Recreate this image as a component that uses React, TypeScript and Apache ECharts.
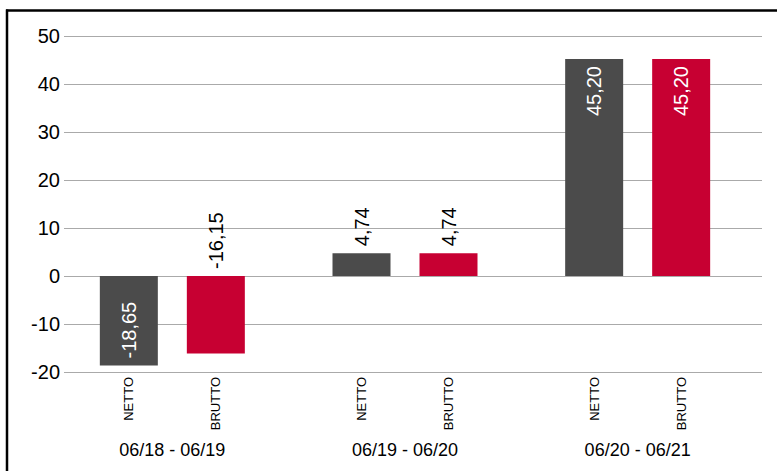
import React, { useEffect, useRef } from "react";
import * as echarts from "echarts";

const categories = ["06/18 - 06/19", "06/19 - 06/20", "06/20 - 06/21"];
const seriesNames = ["NETTO", "BRUTTO"];
const netto = [-18.65, 4.74, 45.2];
const brutto = [-16.15, 4.74, 45.2];
const yMin = -20;
const yMax = 50;
const yInterval = 10;

const COLORS = ["#4b4b4b", "#c70032"];
const FONT = "Liberation Sans, Arial, Helvetica, sans-serif";

function fmt(v: number) {
  return v.toFixed(2).replace(".", ",");
}

function valueLabel(v: number) {
  const inside = Math.abs(v) > 17;
  if (inside) {
    return {
      position: v < 0 ? "insideBottom" : "insideTop",
      align: v < 0 ? "left" : "right",
      color: "#ffffff",
    };
  }
  return { position: "top", align: "left", color: "#000000" };
}

function buildData(values: number[]) {
  return values.map((v) => ({ value: v, label: valueLabel(v) }));
}

export default function App() {
  const ref = useRef<HTMLDivElement>(null);
  useEffect(() => {
    if (!ref.current) return;
    const chart = echarts.init(ref.current, null, { renderer: "svg" });
    const barCommon = {
      barWidth: 58,
      barGap: "50%",
      silent: true,
    };
    const option: any = {
      animation: false,
      backgroundColor: "#ffffff",
      textStyle: { fontFamily: FONT },
      grid: [
        { left: 64, right: 15, top: 36, bottom: 99 },
        { left: 56, width: 698, top: 36, bottom: 99 },
        { left: 56, width: 698, top: 377, height: 60 },
      ],
      xAxis: [
        { gridIndex: 0, type: "category", data: categories, show: false },
        {
          gridIndex: 1,
          type: "category",
          data: categories,
          axisLine: { show: false },
          axisTick: { show: false },
          axisLabel: { fontSize: 18, color: "#000", margin: 69, fontFamily: FONT },
        },
        { gridIndex: 2, type: "category", data: categories, show: false },
      ],
      yAxis: [
        {
          gridIndex: 0,
          type: "value",
          min: yMin,
          max: yMax,
          interval: yInterval,
          axisLine: { show: false },
          axisTick: { show: false },
          axisLabel: { fontSize: 20, color: "#000", margin: 4, fontFamily: FONT },
          splitLine: { lineStyle: { color: "#aaaaaa", width: 1 } },
        },
        { gridIndex: 1, type: "value", min: yMin, max: yMax, interval: yInterval, show: false, splitLine: { show: false } },
        { gridIndex: 2, type: "value", min: 0, max: 1, show: false, splitLine: { show: false } },
      ],
      series: [
        ...[netto, brutto].map((vals, i) => ({
          ...barCommon,
          type: "bar",
          name: seriesNames[i],
          xAxisIndex: 1,
          yAxisIndex: 1,
          itemStyle: { color: COLORS[i] },
          label: {
            show: true,
            rotate: 90,
            verticalAlign: "middle",
            distance: 7,
            fontSize: 20,
            fontFamily: FONT,
            formatter: (p: any) => fmt(p.value),
          },
          data: buildData(vals),
        })),
        ...seriesNames.map((name) => ({
          ...barCommon,
          type: "bar",
          name: name + " ",
          xAxisIndex: 2,
          yAxisIndex: 2,
          itemStyle: { color: "rgba(0,0,0,0)" },
          label: {
            show: true,
            position: "insideTop",
            distance: 0,
            rotate: 90,
            align: "right",
            verticalAlign: "middle",
            fontSize: 13,
            color: "#000",
            fontFamily: FONT,
            formatter: () => name,
          },
          data: categories.map(() => 1),
        })),
      ],
      graphic: [
        { type: "line", shape: { x1: 7, y1: 9.5, x2: 7, y2: 471 }, style: { stroke: "#000", lineWidth: 2.5 } },
        { type: "line", shape: { x1: 6, y1: 10.5, x2: 777, y2: 10.5 }, style: { stroke: "#000", lineWidth: 2.5 } },
      ],
    };
    chart.setOption(option);
    return () => chart.dispose();
  }, []);
  return (
    <div
      ref={ref}
      style={{ position: "fixed", left: 0, top: 0, width: 777, height: 471 }}
    />
  );
}
